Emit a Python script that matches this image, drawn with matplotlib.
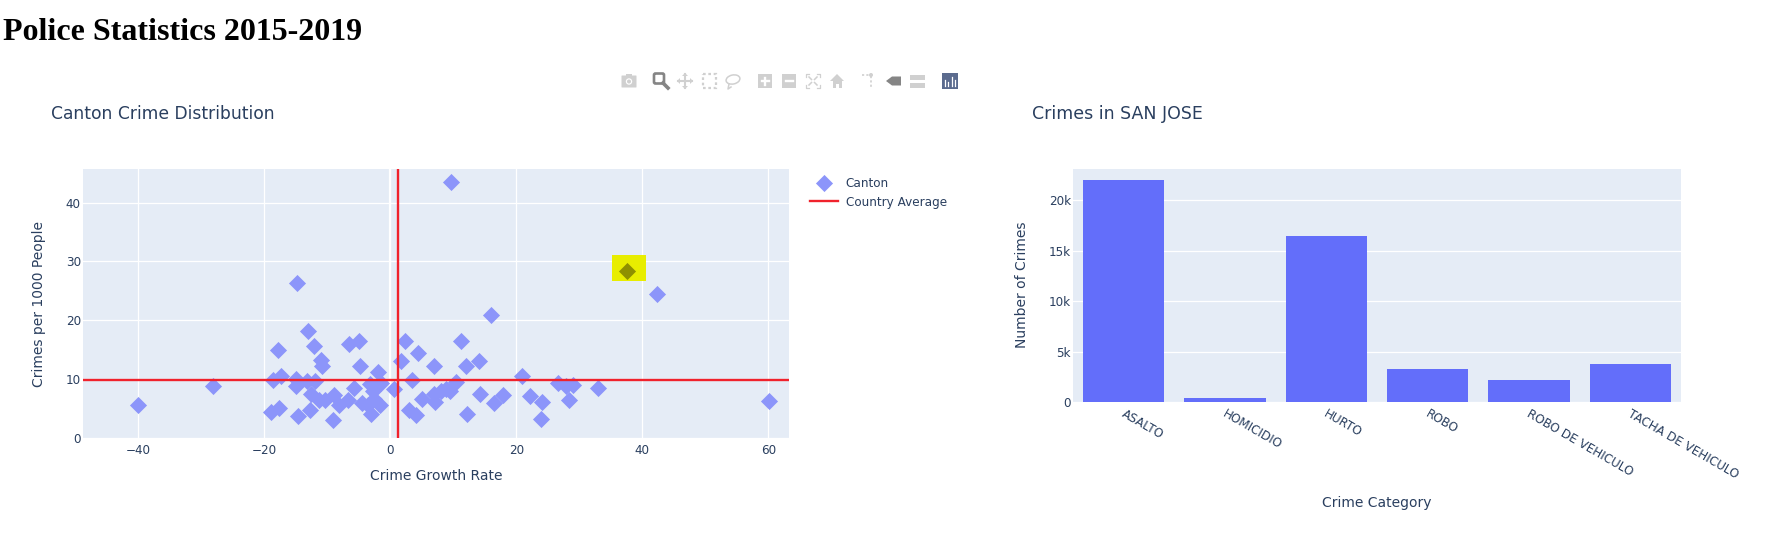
import matplotlib
matplotlib.use("Agg")
import matplotlib.pyplot as plt
from matplotlib.patches import Rectangle, Circle, Polygon, FancyBboxPatch, Ellipse
from matplotlib.transforms import ScaledTranslation

# ========== DATA ==========
growth_rate = [
    -40.1, -28.1, -19.0, -18.7, -17.8, -17.7, -17.4, -15.0, -15.0, -14.8, -14.6, -13.3, -13.0,
    -12.7, -12.6, -12.1, -12.0, -11.4, -11.0, -10.8, -10.4, -9.1, -9.0, -8.1, -6.8, -6.6, -5.8,
    -4.9, -4.8, -4.5, -3.5, -3.3, -3.0, -2.7, -2.6, -2.0, -1.6, -1.5, 0.6, 1.7, 2.3, 3.0, 3.4,
    4.0, 4.4, 5.0, 7.0, 7.0, 7.1, 8.1, 8.8, 9.5, 9.6, 10.4, 11.2, 12.0, 12.2, 14.0, 14.2, 16.0,
    16.4, 17.9, 20.9, 22.2, 23.9, 24.1, 26.7, 27.9, 28.3, 29.0, 33.0, 42.3, 60.2,
]
crimes_per_1000 = [
    5.6, 8.8, 4.4, 9.9, 14.9, 5.1, 10.5, 10.1, 8.9, 26.4, 3.8, 9.6, 18.2,
    4.7, 7.4, 15.7, 9.7, 6.4, 13.3, 12.2, 6.5, 3.1, 7.3, 5.6, 6.5, 16.0, 8.5,
    16.4, 12.3, 6.0, 5.6, 9.1, 4.0, 7.9, 6.7, 11.2, 5.6, 9.4, 8.3, 13.0, 16.4, 4.7, 9.8,
    3.9, 14.4, 6.6, 12.3, 7.5, 6.1, 8.0, 8.4, 8.0, 43.5, 9.5, 16.4, 12.3, 4.1, 13.1, 7.4, 20.9,
    5.9, 7.3, 10.5, 7.2, 3.2, 6.2, 9.4, 8.9, 6.5, 9.0, 8.5, 24.5, 6.3,
]
selected_x = [37.6]
selected_y = [28.4]
avg_growth = 1.26
avg_crimes = 9.85

categories = ["ASALTO", "HOMICIDIO", "HURTO", "ROBO", "ROBO DE VEHICULO", "TACHA DE VEHICULO"]
crime_counts = [21980, 440, 16500, 3240, 2230, 3790]

# ========== STYLE ==========
W, H = 1770, 543
TEXT = "#2a3f5f"
BG = "#e5ecf6"
BLUE = "#636efa"
LIGHT_BLUE = "#8c95fa"
RED = "#f0222c"
ICON = "#d0d0d0"
ICON_DARK = "#858585"
plt.rcParams["font.family"] = "DejaVu Sans"


def px_axes(fig, left, top, right, bottom):
    return fig.add_axes([left / W, 1 - bottom / H, (right - left) / W, (bottom - top) / H])


def style_axes(ax):
    ax.set_facecolor(BG)
    for s in ax.spines.values():
        s.set_visible(False)
    ax.set_axisbelow(True)
    ax.tick_params(length=0, labelsize=8.64, labelcolor=TEXT)
    ax.tick_params(axis="y", pad=1.5)
    ax.tick_params(axis="x", pad=4)


def fig_text(x, y, s, **kw):
    kw.setdefault("color", TEXT)
    kw.setdefault("va", "center")
    fig.text(x / W, 1 - y / H, s, **kw)


# ========== FIGURE ==========
fig = plt.figure(figsize=(W / 100, H / 100), dpi=100, facecolor="white")

# --- SCATTER ---
ax1 = px_axes(fig, 83, 169, 789, 438)
style_axes(ax1)
ax1.set_xlim(-48.8, 63.3)
ax1.set_ylim(0, 45.7)
ax1.set_xticks([-40, -20, 0, 20, 40, 60])
ax1.set_xticklabels(["\u221240", "\u221220", "0", "20", "40", "60"])
ax1.set_yticks([0, 10, 20, 30, 40])
ax1.grid(color="white", lw=0.9)
ax1.axvline(0, color="white", lw=1.6, zorder=1)
ax1.add_patch(Rectangle((35.2, 26.7), 5.4, 4.4, fc="#e8ed00", ec="none", zorder=2))
pts = ax1.scatter(growth_rate, crimes_per_1000, marker="D", s=76, color=LIGHT_BLUE,
                  linewidths=0, zorder=3, label="Canton")
ax1.scatter(selected_x, selected_y, marker="D", s=76, color="#8f9000", linewidths=0, zorder=3)
avg_line = ax1.axhline(avg_crimes, color=RED, lw=1.7, zorder=4, label="Country Average")
ax1.axvline(avg_growth, color=RED, lw=1.7, zorder=4)
ax1.legend(handles=[pts, avg_line], loc="upper left", bbox_to_anchor=(1.030, 0.972), frameon=False,
           fontsize=8.64, labelcolor=TEXT, handlelength=2.35, handletextpad=0.6, labelspacing=0.5,
           borderaxespad=0, borderpad=0)

# --- BARS ---
ax2 = px_axes(fig, 1073, 169, 1681, 402)
style_axes(ax2)
ax2.bar(range(len(categories)), crime_counts, width=0.8, color=BLUE, zorder=3)
ax2.set_xlim(-0.5, 5.5)
ax2.set_ylim(0, 23100)
ax2.set_yticks([0, 5000, 10000, 15000, 20000])
ax2.set_yticklabels(["0", "5k", "10k", "15k", "20k"])
ax2.grid(axis="y", color="white", lw=0.9)
ax2.set_xticks(range(len(categories)))
ax2.set_xticklabels(categories, rotation=-30, ha="left", va="top", rotation_mode="anchor")
for lab in ax2.get_xticklabels():
    lab.set_transform(lab.get_transform() + ScaledTranslation(2 / 100, 0, fig.dpi_scale_trans))

# --- TEXT ---
fig_text(3, 32.5, "Police Statistics 2015-2019", family="Liberation Serif", weight="bold",
         fontsize=23, color="black")
fig_text(51, 114, "Canton Crime Distribution", fontsize=12.3)
fig_text(1032, 114, "Crimes in SAN JOSE", fontsize=12.5)
fig_text(436, 476, "Crime Growth Rate", fontsize=10, ha="center")
fig_text(39, 304, "Crimes per 1000 People", fontsize=10, ha="center", rotation=90)
fig_text(1022, 285, "Number of Crimes", fontsize=10, ha="center", rotation=90)
fig_text(1377, 503, "Crime Category", fontsize=10, ha="center")

# --- MODEBAR ICONS ---
bar = fig.add_axes([0, 0, 1, 1], facecolor="none")
bar.set_xlim(0, W)
bar.set_ylim(H, 0)
bar.axis("off")
cy = 81
# camera
bar.add_patch(FancyBboxPatch((622, cy - 5), 14, 11, boxstyle="round,pad=0.5", fc=ICON, ec="none"))
bar.add_patch(Rectangle((626, cy - 7), 6, 3, fc=ICON, ec="none"))
bar.add_patch(Circle((629, cy + 0.5), 3.2, fc="white", ec="none"))
bar.add_patch(Circle((629, cy + 0.5), 2, fc=ICON, ec="none"))
# zoom (active)
bar.add_patch(FancyBboxPatch((655.5, cy - 6), 7, 7, boxstyle="round,pad=1.5", fc="none", ec=ICON_DARK, lw=1.9))
bar.plot([663, 668], [cy + 2, cy + 7], color=ICON_DARK, lw=2.6)
# pan
bar.plot([678, 692], [cy, cy], color=ICON, lw=1.5)
bar.plot([685, 685], [cy - 7, cy + 7], color=ICON, lw=1.5)
bar.add_patch(Polygon([[682, cy - 5], [688, cy - 5], [685, cy - 8]], fc=ICON, ec="none"))
bar.add_patch(Polygon([[682, cy + 5], [688, cy + 5], [685, cy + 8]], fc=ICON, ec="none"))
bar.add_patch(Polygon([[680, cy - 3], [680, cy + 3], [677, cy]], fc=ICON, ec="none"))
bar.add_patch(Polygon([[690, cy - 3], [690, cy + 3], [693, cy]], fc=ICON, ec="none"))
# box select
bar.add_patch(Rectangle((702.5, cy - 7), 13, 14, fc="none", ec=ICON, lw=1.6, ls=(0, (1.2, 1.2))))
# lasso
bar.add_patch(Ellipse((733, cy - 1.5), 14, 9, angle=-12, fc="none", ec=ICON, lw=1.1))
bar.plot([729, 728, 731], [cy + 3, cy + 8, cy + 6], color=ICON, lw=1.1)
# zoom in / out
for x0, plus in [(758, True), (782, False)]:
    bar.add_patch(Rectangle((x0, cy - 7), 14, 14, fc=ICON, ec="none"))
    bar.plot([x0 + 3.5, x0 + 10.5], [cy, cy], color="white", lw=1.7)
    if plus:
        bar.plot([x0 + 7, x0 + 7], [cy - 3.5, cy + 3.5], color="white", lw=1.7)
# autoscale
for sx, sy in [(-1, -1), (1, -1), (-1, 1), (1, 1)]:
    xc, yc = 813 + sx * 7, cy + sy * 7
    bar.plot([xc - sx * 3, xc, xc], [yc, yc, yc - sy * 3], color=ICON, lw=0.9)
    bar.plot([813 + sx * 1.5, 813 + sx * 4], [cy + sy * 1.5, cy + sy * 4], color=ICON, lw=1.1)
# home
bar.add_patch(Polygon([[830, cy], [837, cy - 7], [844, cy]], fc=ICON, ec="none"))
bar.add_patch(Rectangle((832.5, cy - 1), 9, 8, fc=ICON, ec="none"))
bar.add_patch(Rectangle((836, cy + 3), 2.5, 4, fc="white", ec="none"))
# spikelines
bar.plot([862, 869], [cy - 6, cy - 6], color=ICON, lw=1.2, ls=(0, (1.3, 1.3)))
bar.plot([871, 871], [cy - 5, cy + 7], color=ICON, lw=1.2, ls=(0, (1.3, 1.3)))
bar.add_patch(Circle((871, cy - 6), 2, fc=ICON, ec="none"))
# hover closest
bar.add_patch(Polygon([[886, cy], [892, cy - 4.5], [901, cy - 4.5], [901, cy + 4.5], [892, cy + 4.5]],
                      fc=ICON_DARK, ec="none"))
# hover compare
bar.add_patch(Rectangle((910, cy - 6), 15, 5, fc=ICON, ec="none"))
bar.add_patch(Rectangle((910, cy + 2), 15, 5, fc=ICON, ec="none"))
# plotly logo
bar.add_patch(Rectangle((941.5, cy - 8), 16, 16, fc="#5b6b8e", ec="none"))
for x0, ys in [(945, (cy - 1, cy + 5)), (948.3, (cy + 1, cy + 5)), (951.6, (cy - 4, cy + 5)), (954.6, (cy - 1, cy + 5))]:
    bar.plot([x0, x0], ys, color="white", lw=0.9)

fig.savefig("out.png", dpi=100, facecolor="white")
